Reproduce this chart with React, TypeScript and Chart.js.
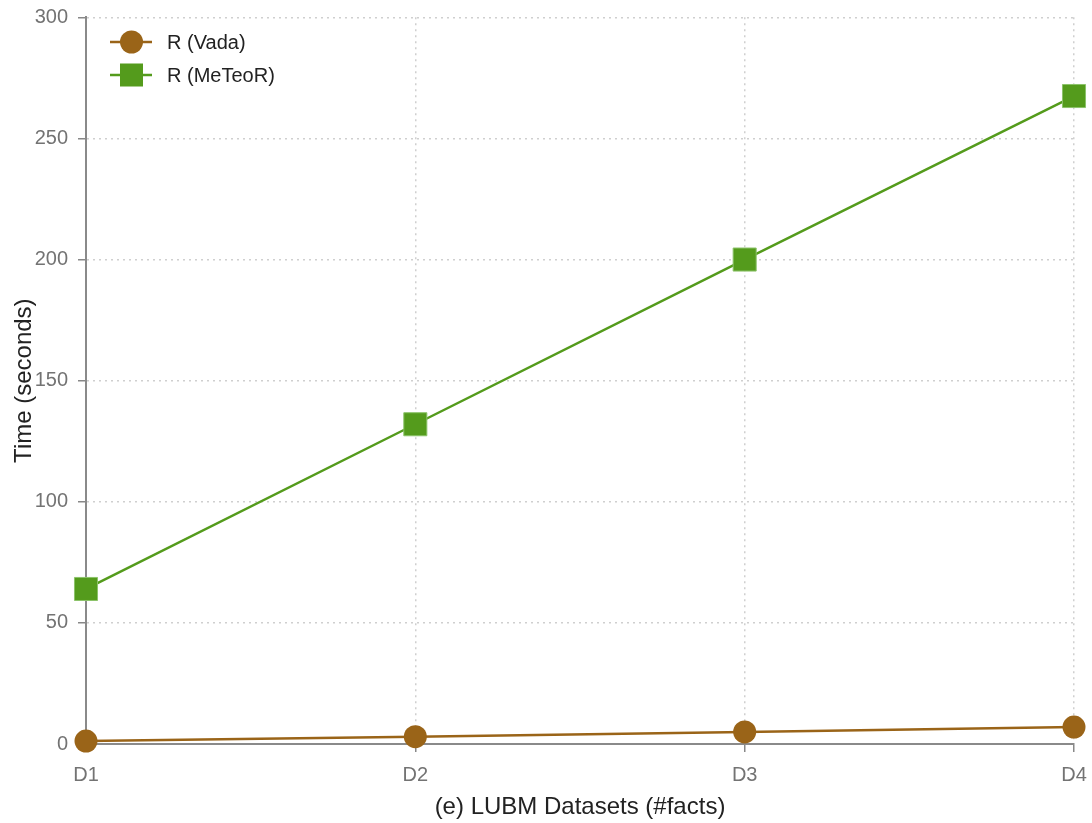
import React, { useEffect, useRef } from "react";
import { Chart, registerables } from "chart.js";

Chart.register(...registerables);

const categories = ["D1", "D2", "D3", "D4"];
const vadaValues = [1.2, 3, 5, 7];
const meteorValues = [64, 132, 200, 267.5];
const yTicks = [0, 50, 100, 150, 200, 250, 300];

const BROWN = "#9a6418";
const GREEN = "#549b1c";
const FONT = "'Liberation Sans', Arial, Helvetica, sans-serif";

const legendPlugin = {
  id: "insideLegend",
  afterDraw(chart: any) {
    const ctx = chart.ctx;
    const items = [
      { label: "R (Vada)", color: BROWN, style: "circle" },
      { label: "R (MeTeoR)", color: GREEN, style: "rect" },
    ];
    ctx.save();
    items.forEach((it, i) => {
      const cy = 42 + i * 33;
      const x0 = 110;
      const x1 = 152;
      ctx.strokeStyle = it.color;
      ctx.lineWidth = 2.5;
      ctx.beginPath();
      ctx.moveTo(x0, cy);
      ctx.lineTo(x1, cy);
      ctx.stroke();
      ctx.fillStyle = it.color;
      const cx = 131.5;
      if (it.style === "circle") {
        ctx.beginPath();
        ctx.arc(cx, cy, 11.5, 0, Math.PI * 2);
        ctx.fill();
      } else {
        ctx.fillRect(cx - 11.5, cy - 11.5, 23, 23);
      }
      ctx.fillStyle = "#222";
      ctx.font = `20px ${FONT}`;
      ctx.textBaseline = "middle";
      ctx.textAlign = "left";
      ctx.fillText(it.label, 167, cy + 1);
    });
    ctx.restore();
  },
};

const gridOpts = {
  color: "#cfcfcf",
  lineWidth: 1.5,
  tickColor: "#888",
  tickBorderDash: [],
  tickLength: 8,
} as any;

const borderOpts = { color: "#8a8a8a", width: 2, dash: [2, 4] } as any;

export default function App() {
  const ref = useRef<HTMLCanvasElement | null>(null);
  useEffect(() => {
    document.body.style.margin = "0";
    const chart = new Chart(ref.current as HTMLCanvasElement, {
      type: "line",
      data: {
        labels: categories,
        datasets: [
          {
            label: "R (Vada)",
            data: vadaValues,
            borderColor: BROWN,
            backgroundColor: BROWN,
            borderWidth: 2.5,
            pointStyle: "circle",
            pointRadius: 11.5,
            pointBorderWidth: 0,
            pointBackgroundColor: BROWN,
            tension: 0,
            clip: false,
          } as any,
          {
            label: "R (MeTeoR)",
            data: meteorValues,
            borderColor: GREEN,
            backgroundColor: GREEN,
            borderWidth: 2.5,
            pointStyle: "rect",
            pointRadius: 16.3,
            pointBorderWidth: 1,
            pointBorderColor: "#8cc36a",
            pointBackgroundColor: GREEN,
            tension: 0,
            clip: false,
          } as any,
        ],
      },
      options: {
        animation: false,
        responsive: false,
        layout: { padding: { left: 0, right: 18, top: 15, bottom: 0 } },
        plugins: { legend: { display: false }, tooltip: { enabled: false } },
        scales: {
          x: {
            type: "category",
            offset: false,
            grid: gridOpts,
            border: borderOpts,
            ticks: { color: "#737373", font: { family: FONT, size: 20 }, padding: 11 },
            title: {
              display: true,
              text: "(e) LUBM Datasets (#facts)",
              color: "#222",
              font: { family: FONT, size: 24 },
              padding: { top: 2, bottom: 1 },
            },
            afterFit(scale: any) {
              scale.height = 79;
              scale.paddingLeft = 0;
              scale.paddingRight = 0;
            },
          },
          y: {
            min: 0,
            max: 300,
            afterBuildTicks(scale: any) {
              scale.ticks = yTicks.map((v) => ({ value: v }));
            },
            grid: gridOpts,
            border: borderOpts,
            ticks: { color: "#737373", font: { family: FONT, size: 20 }, padding: 10 },
            title: {
              display: true,
              text: "Time (seconds)",
              color: "#222",
              font: { family: FONT, size: 24 },
              padding: { top: 10, bottom: 0 },
            },
            afterFit(scale: any) {
              scale.width = 86;
              scale.paddingTop = 0;
              scale.paddingBottom = 0;
            },
          },
        },
      },
      plugins: [legendPlugin],
    });
    return () => chart.destroy();
  }, []);
  return (
    <div style={{ position: "absolute", left: 0, top: 0, width: 1092, height: 823 }}>
      <canvas ref={ref} width={1092} height={823} style={{ width: 1092, height: 823 }} />
    </div>
  );
}
